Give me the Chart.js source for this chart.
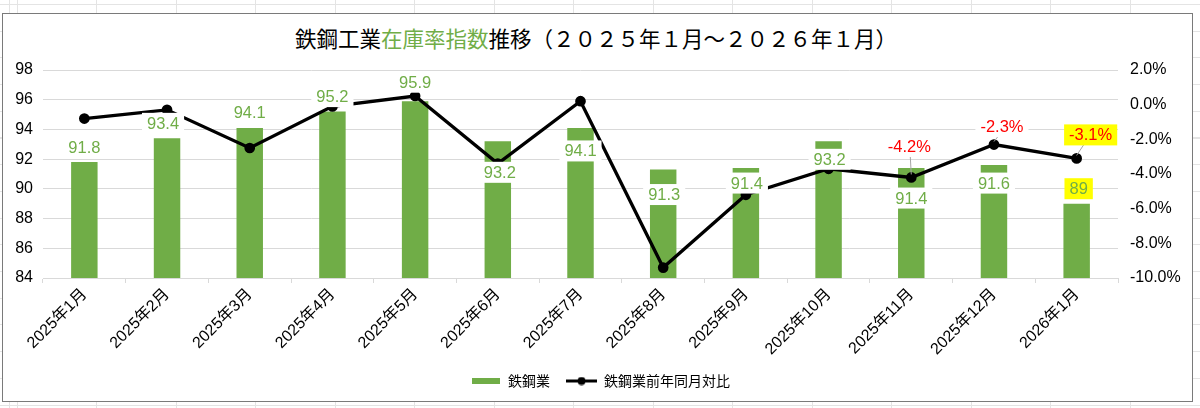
<!DOCTYPE html>
<html lang="ja">
<head>
<meta charset="utf-8">
<title>鉄鋼工業在庫率指数推移</title>
<script src="https://cdn.jsdelivr.net/npm/chart.js@4.4.1/dist/chart.umd.min.js"></script>
<style>
  html, body { margin: 0; padding: 0; }
  body {
    width: 1200px; height: 408px; position: relative; overflow: hidden;
    background-color: #fff;
    background-image:
      repeating-linear-gradient(to right, #e4e4e4 0 1px, transparent 1px 79.5px),
      repeating-linear-gradient(to bottom, #e4e4e4 0 1px, transparent 1px 26.7px);
    background-position: 17px 0, 0 4px;
  }
  .frame {
    position: absolute; left: 2px; top: 13px; width: 1189px; height: 387px;
    border: 1.5px solid #7a7a7a; background: #fff;
  }
  .title {
    position: absolute; left: 0; top: 27px; width: 1192px; text-align: center;
    font: 21.5px/22px "Noto Sans CJK JP", sans-serif; color: #000; white-space: nowrap;
  }
  .title .hl { color: #70ad47; }
  canvas { position: absolute; left: 0; top: 0; }
</style>
</head>
<body>
<div class="frame"></div>
<div class="title">鉄鋼工業<span class="hl">在庫率指数</span>推移（２０２５年１月～２０２６年１月）</div>
<canvas id="chart" width="1200" height="408"></canvas>
<script>
// --- Data ---
const months = ['2025年1月', '2025年2月', '2025年3月', '2025年4月', '2025年5月', '2025年6月',
    '2025年7月', '2025年8月', '2025年9月', '2025年10月', '2025年11月', '2025年12月', '2026年1月'];
const inventoryIndex = [91.8, 93.4, 94.1, 95.2, 95.9, 93.2, 94.1, 91.3, 91.4, 93.2, 91.4, 91.6, 89];
const yoyChange = [-0.8, -0.3, -2.5, -0.1, 0.5, -3.4, 0.2, -9.4, -5.2, -3.7, -4.2, -2.3, -3.1];
const leftAxisTicks = [84, 86, 88, 90, 92, 94, 96, 98];
const rightAxisTicks = [-10, -8, -6, -4, -2, 0, 2];

// --- Label styling (where each label sits relative to its mark) ---
const barLabelShift = [[0, -15], [-4, -15], [0, -15], [0, -15], [0, -19], [2, 31], [0, 23],
    [1, 25], [1, 15], [1, 18], [0, 30], [0, 18], [2, -15]];
const yoyLabelShift = { 10: [-2, -31], 11: [8, -18], 12: [14, -23.5] };
const highlightIndex = 12;

const GREEN = '#70ad47';
const FONT = "'Liberation Sans', 'Noto Sans CJK JP', sans-serif";
const CJK = "'Noto Sans CJK JP', sans-serif";

Chart.defaults.font.family = FONT;
Chart.defaults.color = '#000';

// legend icons drawn once
function makeIcon(w, h, draw) {
    const c = document.createElement('canvas');
    c.width = w; c.height = h;
    draw(c.getContext('2d'));
    return c;
}
const barIcon = makeIcon(28, 6, g => { g.fillStyle = GREEN; g.fillRect(0, 0, 28, 6); });
const lineIcon = makeIcon(31, 9, g => {
    g.fillStyle = '#000';
    g.fillRect(0, 3, 31, 3);
    g.beginPath(); g.arc(15.5, 4.5, 4, 0, Math.PI * 2); g.fill();
});

function drawTag(ctx, text, x, y, color, bg) {
    const w = ctx.measureText(text).width + 10;
    const h = 21;
    ctx.fillStyle = bg;
    ctx.fillRect(x - w / 2, y - h / 2, w, h);
    ctx.fillStyle = color;
    ctx.fillText(text, x, y + 1);
}

const labelPlugin = {
    id: 'valueLabels',
    afterDatasetsDraw(chart) {
        const ctx = chart.ctx;
        const bars = chart.getDatasetMeta(0).data;
        const pts = chart.getDatasetMeta(1).data;
        ctx.save();
        ctx.font = '16.5px ' + FONT;
        ctx.textAlign = 'center';
        ctx.textBaseline = 'middle';

        // leader lines under the % labels
        Object.keys(yoyLabelShift).forEach(k => {
            const i = +k;
            const p = pts[i];
            const [dx, dy] = yoyLabelShift[i];
            ctx.strokeStyle = '#a6a6a6';
            ctx.lineWidth = 1;
            ctx.beginPath();
            ctx.moveTo(p.x, p.y - 3);
            ctx.lineTo(p.x + dx * 0.5, p.y + dy + 10);
            ctx.stroke();
        });

        bars.forEach((bar, i) => {
            const [dx, dy] = barLabelShift[i];
            const bg = i === highlightIndex ? '#ffff00' : '#fff';
            drawTag(ctx, String(inventoryIndex[i]), bar.x + dx, bar.y + dy, GREEN, bg);
        });

        Object.keys(yoyLabelShift).forEach(k => {
            const i = +k;
            const p = pts[i];
            const [dx, dy] = yoyLabelShift[i];
            const bg = i === highlightIndex ? '#ffff00' : '#fff';
            drawTag(ctx, yoyChange[i].toFixed(1) + '%', p.x + dx, p.y + dy, '#ff0000', bg);
        });
        ctx.restore();
    }
};

new Chart(document.getElementById('chart'), {
    type: 'bar',
    data: {
        labels: months,
        datasets: [
            {
                type: 'bar',
                label: '鉄鋼業',
                data: inventoryIndex,
                backgroundColor: GREEN,
                barPercentage: 0.32,
                categoryPercentage: 1,
                yAxisID: 'y',
                order: 2
            },
            {
                type: 'line',
                label: '鉄鋼業前年同月対比',
                data: yoyChange,
                borderColor: '#000',
                backgroundColor: '#000',
                borderWidth: 3.3,
                pointRadius: 3.7,
                pointBackgroundColor: '#000',
                pointBorderColor: '#000',
                tension: 0,
                yAxisID: 'y1',
                order: 1
            }
        ]
    },
    options: {
        responsive: false,
        animation: false,
        events: [],
        layout: { padding: { top: 70, bottom: 10, left: 0, right: 0 } },
        plugins: {
            tooltip: { enabled: false },
            legend: {
                position: 'bottom',
                labels: {
                    usePointStyle: true,
                    pointStyleWidth: 31,
                    boxHeight: 9,
                    padding: 16,
                    color: '#000',
                    font: { size: 14, family: CJK },
                    generateLabels(chart) {
                        const icons = [barIcon, lineIcon];
                        return chart.data.datasets.map((ds, i) => ({
                            text: ds.label,
                            pointStyle: icons[i],
                            fillStyle: ds.backgroundColor,
                            strokeStyle: ds.borderColor,
                            lineWidth: 0,
                            hidden: false,
                            datasetIndex: i,
                            fontColor: '#000'
                        }));
                    }
                }
            }
        },
        scales: {
            x: {
                grid: { offset: true, drawOnChartArea: false, tickLength: 5, color: '#d9d9d9' },
                border: { color: '#d9d9d9' },
                ticks: { minRotation: 45, maxRotation: 45, autoSkip: false, padding: 2,
                    font: { size: 16 }, color: '#000' },
                afterFit(s) { s.height = 80; }
            },
            y: {
                position: 'left',
                min: leftAxisTicks[0],
                max: leftAxisTicks[leftAxisTicks.length - 1],
                afterBuildTicks(s) { s.ticks = leftAxisTicks.map(v => ({ value: v })); },
                grid: { color: '#d9d9d9', drawTicks: false },
                border: { display: false },
                ticks: { padding: 10, font: { size: 16 }, color: '#000' },
                afterFit(s) { s.width = 43; }
            },
            y1: {
                position: 'right',
                min: rightAxisTicks[0],
                max: rightAxisTicks[rightAxisTicks.length - 1],
                afterBuildTicks(s) { s.ticks = rightAxisTicks.map(v => ({ value: v })); },
                grid: { display: false, drawTicks: false },
                border: { display: false },
                ticks: { padding: 12, font: { size: 16 }, color: '#000',
                    callback: v => v.toFixed(1) + '%' },
                afterFit(s) { s.width = 82; }
            }
        }
    },
    plugins: [labelPlugin]
});
</script>
</body>
</html>
